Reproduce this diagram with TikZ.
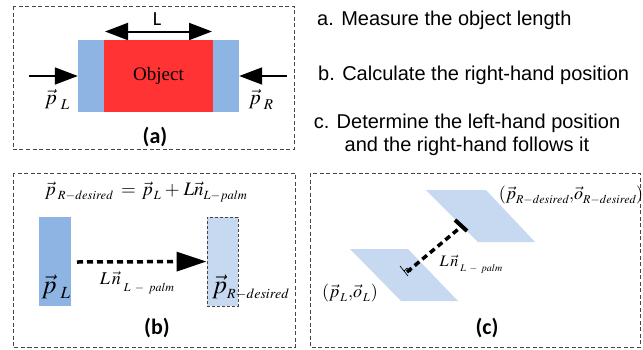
\documentclass[tikz,border=0pt]{standalone}
\usepackage{mathptmx}
\usepackage[no-math]{fontspec}
\setmainfont{Liberation Sans}
\newfontfamily\serifobj{Liberation Serif}
\newfontfamily\calfont{Carlito}
\usetikzlibrary{arrows.meta,calc}
\newcommand{\sbx}[3]{\raisebox{-#2pt}{\fontsize{#1}{#1}\selectfont$#3$}}
\definecolor{midblue}{RGB}{141,180,227}
\definecolor{lightblue}{RGB}{198,217,240}
\definecolor{objred}{RGB}{255,51,51}
\definecolor{framegray}{RGB}{70,70,70}
\tikzset{
  panel/.style={draw=framegray, line width=0.9pt, dash pattern=on 4pt off 2.5pt},
  bluebox/.style={fill=midblue, draw=none, inner sep=0pt},
  redbox/.style={fill=objred, draw=none, inner sep=0pt, font=\serifobj\fontsize{19}{22}\selectfont},
  lightbox/.style={fill=lightblue, draw=framegray, line width=0.9pt, dash pattern=on 3pt off 2pt, inner sep=0pt},
  bigarrow/.style={line width=1.8pt, -{Triangle[length=23pt,width=17pt]}},
  dblarrow/.style={line width=2pt, {Triangle[length=23pt,width=17pt]}-{Triangle[length=23pt,width=17pt]}},
  dasharrow/.style={line width=3.5pt, dash pattern=on 6pt off 4pt, -{Triangle[length=30pt,width=19pt]}},
  dashbar/.style={line width=3.5pt, dash pattern=on 6pt off 4pt},
  steptext/.style={font=\fontsize{20}{23.5}\selectfont, inner sep=0pt},
  panellabel/.style={font=\calfont\bfseries\fontsize{22}{26}\selectfont, inner sep=0pt},
  mathlabel/.style={font=\fontsize{19}{22}\selectfont, inner sep=0pt},
  plane/.style={fill=lightblue, draw=none}
}
\begin{document}
\begin{tikzpicture}[x=1pt,y=-1pt]
\useasboundingbox (0,0) rectangle (643,349);
% panel frames
\draw[panel] (13,6) rectangle (294,149);
\draw[panel] (13,173) rectangle (295,347);
\draw[panel] (310,173) rectangle (640,347);

% ---------- panel (a)
\node[bluebox, minimum width=26pt, minimum height=72pt] (lb) at (91,76) {};
\node[bluebox, minimum width=26pt, minimum height=72pt] (rb) at (226,76) {};
\node[redbox, minimum width=109pt, minimum height=72pt] (obj) at (158.5,76) {Object};
\coordinate (la) at (29,76);
\coordinate (ra) at (287,76);
\coordinate (l1) at (105,31.5);
\coordinate (l2) at (212,31.5);
\draw[bigarrow] (la) -- (lb.west);
\draw[bigarrow] (ra) -- (rb.east);
\draw[dblarrow] (l1) -- (l2);
\node[font=\calfont\fontsize{20}{24}\selectfont, inner sep=0pt] (Ltxt) at (157,19) {L};
\node[mathlabel, font=\fontsize{21}{24}\selectfont] (pl) at (57,99) {$\vec p$\hspace{4pt}\sbx{15}{5}{L}};
\node[mathlabel, font=\fontsize{21}{24}\selectfont] (pr) at (261,99) {$\vec p$\hspace{3pt}\sbx{15}{5}{R}};
\node[panellabel] (la-lab) at (155,137) {(a)};

% ---------- step texts
\node[steptext, anchor=west] (sa) at (317,20) {a. Measure the object length};
\node[steptext, anchor=west] (sb) at (318,75) {b. Calculate the right-hand position};
\node[steptext, align=center] (sc) at (467,135) {c. Determine the left-hand position\\[-1pt]and the right-hand follows it};

% ---------- panel (b)
\node[mathlabel] (eq) at (146,192) {$\vec p$\hspace{2pt}\sbx{12.5}{4}{R{-}desired}\hspace{8pt}$=$\hspace{6pt}$\vec p$\hspace{1pt}\sbx{12.5}{4}{L}\hspace{4pt}$+$\hspace{4pt}$L\vec n$\sbx{12.5}{4}{L{-}palm}};
\node[bluebox, minimum width=32pt, minimum height=89pt] (lb2) at (55,261.5) {};
\node[lightbox, minimum width=31pt, minimum height=89pt] (rb2) at (222.5,261.5) {};
\coordinate (da) at (77,262);
\draw[dasharrow] (da) -- (rb2.west);
\node[mathlabel, font=\fontsize{26}{28}\selectfont] (pl2) at (56,287) {$\vec p$\hspace{4pt}\sbx{17}{5}{L}};
\node[mathlabel, font=\fontsize{26}{28}\selectfont, anchor=west] (pr2) at (212,287) {$\vec p$\sbx{14}{5}{R{-}desired}};
\node[mathlabel, font=\fontsize{18}{22}\selectfont] (ln2) at (137,283) {$L\,\vec n$\hspace{3pt}\sbx{12}{7}{L\;-\;palm}};
\node[panellabel] (lbl-b) at (157,328) {(b)};

% ---------- panel (c)
\fill[plane] (426,190) -- (486,190) -- (535,242) -- (478,242) -- cycle;
\fill[plane] (350,249) -- (408,249) -- (458,301) -- (401,301) -- cycle;
\coordinate (c1) at (407,272);
\coordinate (c2) at (462,226);
\draw[dashbar] (c1) -- (c2);
\draw[line width=4pt] ($(c2)+(-7,-6)$) -- ($(c2)+(5,5)$);
\draw[line width=0.7pt] (400,266) -- (408,276);
\draw[line width=0.7pt] (404,271) -- (407,268) -- (411,272);
\node[mathlabel, font=\fontsize{18}{22}\selectfont] (pc2) at (571,195) {$($$\vec p$\sbx{12}{4}{R{-}desired}$,$$\vec o$\sbx{12}{4}{R{-}desired}$)$};
\node[mathlabel, font=\fontsize{18}{22}\selectfont] (pc1) at (350,293) {$($$\vec p$\hspace{1pt}\sbx{12}{4}{L}\hspace{1pt}$,$$\vec o$\hspace{1pt}\sbx{12}{4}{L}\hspace{1pt}$)$};
\node[mathlabel, font=\fontsize{16}{20}\selectfont] (lnc) at (471,264) {$L\,\vec n$\hspace{2pt}\sbx{10}{5}{L\;-\;palm}};
\node[panellabel] (lbl-c) at (487,328) {(c)};
\end{tikzpicture}
\end{document}
